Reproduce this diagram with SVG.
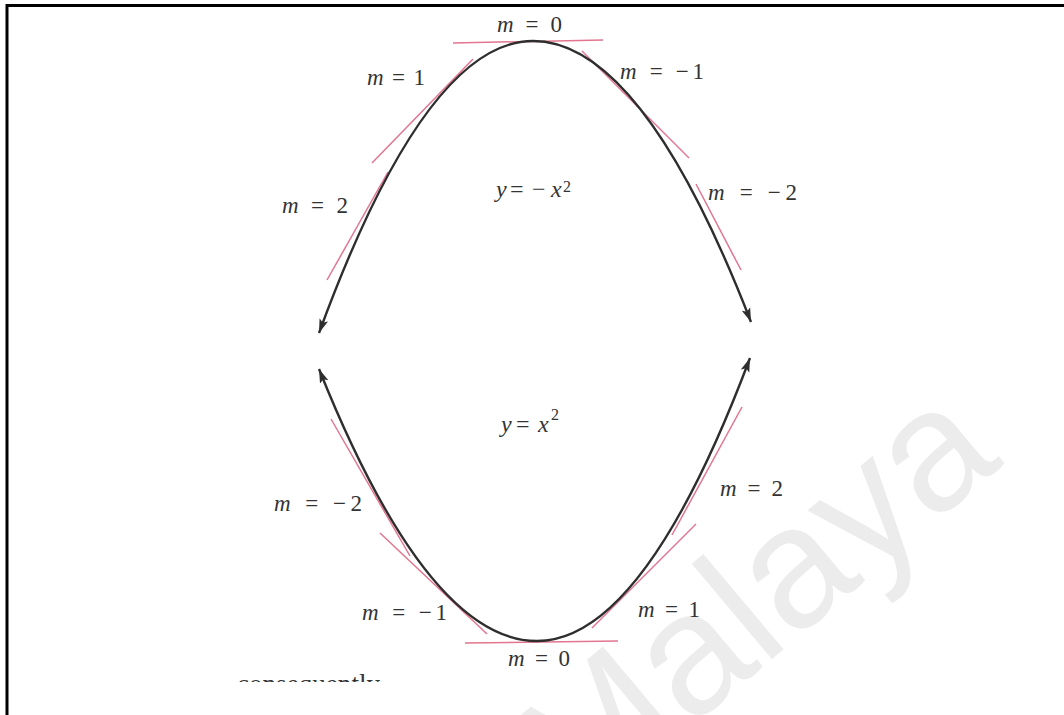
<svg xmlns="http://www.w3.org/2000/svg" width="1064" height="715" viewBox="0 0 1064 715">
  <style>
    .lbl { font-family: "Liberation Serif", "Times New Roman", serif; font-size: 23px; fill: #333; }
    .eq { font-family: "Liberation Serif", "Times New Roman", serif; font-size: 24px; fill: #333; }
    .it { font-style: italic; }
    .curve { fill: none; stroke: #2e2e2e; stroke-width: 2.4; }
    .tan { stroke: #e2758f; stroke-width: 1.5; fill: none; }
    .wm { font-family: "Liberation Sans", Arial, sans-serif; font-size: 172px; fill: #ececec; }
  </style>
  <defs>
    <marker id="arr" markerUnits="userSpaceOnUse" markerWidth="16" markerHeight="10" refX="14" refY="5" orient="auto-start-reverse">
      <path d="M0,0.5 L14,5 L0,9.5 L3,5 z" fill="#2e2e2e"/>
    </marker>
    <clipPath id="cut">
      <rect x="0" y="0" width="1064" height="682"/>
    </clipPath>
  </defs>
  <rect x="0" y="0" width="1064" height="715" fill="#ffffff"/>

  <g id="watermark">
    <text class="wm" transform="translate(580,820) rotate(-40)">Malaya</text>
  </g>

  <g id="frame">
    <path d="M7,715 L7,5.5 L1064,5.5" fill="none" stroke="#000" stroke-width="3"/>
  </g>

  <g id="tangents">
    <line class="tan" x1="453" y1="43" x2="603" y2="40"/>
    <line class="tan" x1="372" y1="163" x2="473" y2="59"/>
    <line class="tan" x1="327" y1="280" x2="388" y2="172"/>
    <line class="tan" x1="582" y1="51" x2="689" y2="158"/>
    <line class="tan" x1="696" y1="184" x2="741" y2="270"/>
    <line class="tan" x1="331" y1="419" x2="410" y2="556"/>
    <line class="tan" x1="380" y1="533" x2="487" y2="634"/>
    <line class="tan" x1="465" y1="643" x2="618" y2="641"/>
    <line class="tan" x1="696" y1="524" x2="592" y2="628"/>
    <line class="tan" x1="742" y1="407" x2="672" y2="535"/>
  </g>

  <g id="connectors">
    <path id="top-parabola" class="curve" d="M319,333 Q426,41 533,41 Q642,41 751,322" marker-start="url(#arr)" marker-end="url(#arr)"/>
    <path id="bottom-parabola" class="curve" d="M319,369 Q428,641 537,641 Q643.5,641 750,358" marker-start="url(#arr)" marker-end="url(#arr)"/>
  </g>

  <g id="labels">
    <text class="lbl" x="497" y="32" textLength="65" lengthAdjust="spacing"><tspan class="it">m</tspan> = 0</text>
    <text class="lbl" x="367" y="85" textLength="58" lengthAdjust="spacing"><tspan class="it">m</tspan> = 1</text>
    <text class="lbl" x="620" y="79" textLength="84" lengthAdjust="spacing"><tspan class="it">m</tspan> = −1</text>
    <text class="lbl" x="282" y="213" textLength="66" lengthAdjust="spacing"><tspan class="it">m</tspan> = 2</text>
    <text class="lbl" x="708" y="200" textLength="89" lengthAdjust="spacing"><tspan class="it">m</tspan> = −2</text>
    <text class="eq"><tspan class="it" x="496" y="197">y</tspan><tspan x="510" y="197">=</tspan><tspan x="532" y="197">−</tspan><tspan class="it" x="551" y="197">x</tspan><tspan x="563" y="192" font-size="16">2</tspan></text>
    <text class="eq"><tspan class="it" x="501" y="432">y</tspan><tspan x="516" y="432">=</tspan><tspan class="it" x="538" y="432">x</tspan><tspan x="551" y="420" font-size="16">2</tspan></text>
    <text class="lbl" x="274" y="511" textLength="88" lengthAdjust="spacing"><tspan class="it">m</tspan> = −2</text>
    <text class="lbl" x="720" y="496" textLength="63" lengthAdjust="spacing"><tspan class="it">m</tspan> = 2</text>
    <text class="lbl" x="362" y="620" textLength="85" lengthAdjust="spacing"><tspan class="it">m</tspan> = −1</text>
    <text class="lbl" x="638" y="617" textLength="62" lengthAdjust="spacing"><tspan class="it">m</tspan> = 1</text>
    <text class="lbl" x="508" y="666" textLength="62" lengthAdjust="spacing"><tspan class="it">m</tspan> = 0</text>
  </g>

  <g id="cut-text" clip-path="url(#cut)">
    <text class="lbl" x="237" y="693" textLength="143" lengthAdjust="spacing" style="font-size:27px">consequently</text>
  </g>
</svg>
